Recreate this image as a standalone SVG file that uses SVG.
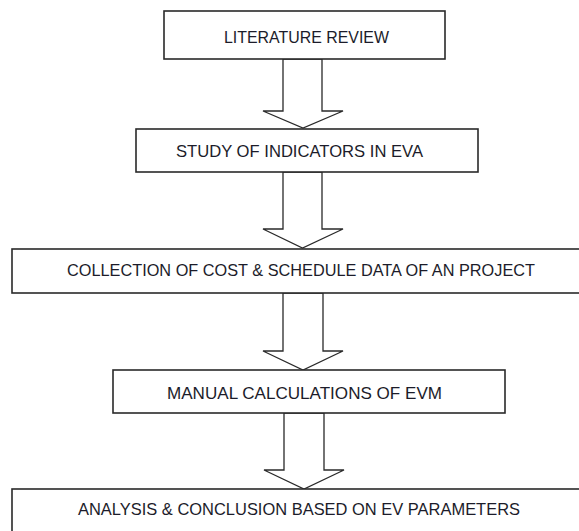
<svg xmlns="http://www.w3.org/2000/svg" width="579" height="531" viewBox="0 0 579 531">
<style>
.box{fill:#fff;stroke:#2a2a2a;stroke-width:1.6}
.arr{fill:#fff;stroke:#2a2a2a;stroke-width:1.3;stroke-linejoin:miter}
.lbl{font-family:"Liberation Sans",Arial,sans-serif;font-size:17px;fill:#1c1c2a;text-anchor:middle}
</style>
<rect width="579" height="531" fill="#fff"/>
<g id="connectors">
<polygon class="arr" points="283,59 283,111 263,111 303,128 343,111 322,111 322,59"/>
<polygon class="arr" points="283,172 283,229 263,229 302.5,248 343,229 322,229 322,172"/>
<polygon class="arr" points="283,293 283,351 263,351 303,370 343,351 323,351 323,293"/>
<polygon class="arr" points="284,413 284,470 264,470 304,489 344,470 324,470 324,413"/>
</g>
<g id="n1"><rect class="box" x="164" y="11" width="281" height="48"/><text class="lbl" x="306.5" y="43" textLength="165" lengthAdjust="spacingAndGlyphs">LITERATURE REVIEW</text></g>
<g id="n2"><rect class="box" x="136" y="129" width="342" height="43"/><text class="lbl" x="299.5" y="157" textLength="247" lengthAdjust="spacingAndGlyphs">STUDY OF INDICATORS IN EVA</text></g>
<g id="n3"><rect class="box" x="12" y="249" width="580" height="44"/><text class="lbl" x="301" y="276" textLength="468" lengthAdjust="spacingAndGlyphs">COLLECTION OF COST &amp; SCHEDULE DATA OF AN PROJECT</text></g>
<g id="n4"><rect class="box" x="113" y="370" width="392" height="43"/><text class="lbl" x="304.5" y="399" textLength="275" lengthAdjust="spacingAndGlyphs">MANUAL CALCULATIONS OF EVM</text></g>
<g id="n5"><rect class="box" x="12" y="489" width="580" height="60"/><text class="lbl" x="299" y="515" textLength="442" lengthAdjust="spacingAndGlyphs">ANALYSIS &amp; CONCLUSION BASED ON EV  PARAMETERS</text></g>
</svg>
